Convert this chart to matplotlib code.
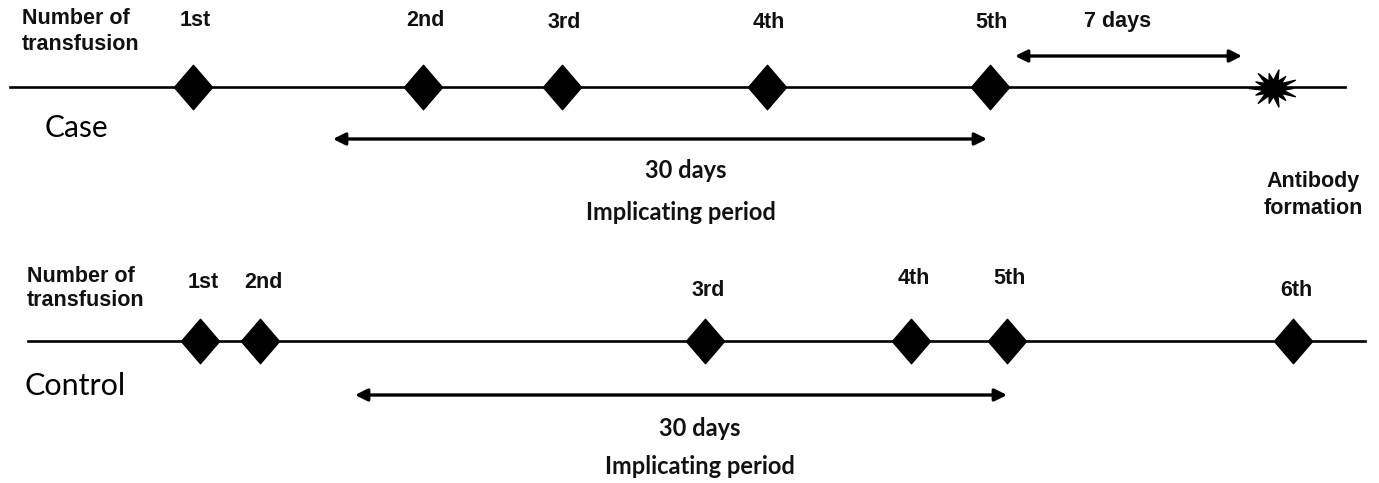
import matplotlib.pyplot as plt
import numpy as np
from matplotlib.path import Path

# timeline positions (in figure pixel units along the time axis)
case_pos = [193, 423, 562, 767, 990]
case_labels = ['1st', '2nd', '3rd', '4th', '5th']
case_label_y = [20, 20, 23, 22, 22]
antibody_pos = 1273

control_pos = [200, 260, 705, 911, 1007, 1293]
control_labels = ['1st', '2nd', '3rd', '4th', '5th', '6th']
control_label_y = [283, 283, 290, 278, 279, 291]

case_period = [333, 987]
case_seven = [1015, 1242]
control_period = [355, 1007]

fig = plt.figure(figsize=(13.79, 4.83), dpi=100)
ax = fig.add_axes([0, 0, 1, 1])
ax.set_xlim(0, 1379)
ax.set_ylim(483, 0)
ax.axis('off')

# diamond marker, a bit taller than wide
diamond = Path([(0, 1), (0.86, 0), (0, -1), (-0.86, 0), (0, 1)],
               [Path.MOVETO, Path.LINETO, Path.LINETO, Path.LINETO, Path.CLOSEPOLY])

# spiky burst for the antibody formation
n = 14
ang = np.linspace(0, 2 * np.pi, 2 * n, endpoint=False)
rad = np.where(np.arange(2 * n) % 2 == 0, 1.0, 0.42)
rad[::4] = 0.8
pts = np.column_stack([rad * np.cos(ang), 0.78 * rad * np.sin(ang)])
pts = np.vstack([pts, pts[:1]])
burst = Path(pts, [Path.MOVETO] + [Path.LINETO] * (len(pts) - 2) + [Path.CLOSEPOLY])

lab = dict(family='Liberation Sans', fontweight='bold', fontsize=15.5, color='#111111')
cal = dict(family='Lato', fontweight='bold', fontsize=17, color='#111111')
arrow = dict(arrowstyle='<|-|>', color='black', lw=2.4, mutation_scale=18,
             shrinkA=0, shrinkB=0)

# ---- Case ----
y_case = 87
ax.plot([10, 1345], [y_case, y_case], color='black', lw=1.9, zorder=1)
ax.plot(case_pos, [y_case] * len(case_pos), ls='none', marker=diamond,
        markersize=32, color='black', zorder=3)
ax.plot([antibody_pos], [y_case + 1], ls='none', marker=burst, markersize=35,
        color='black', zorder=3)
for x, t, yy in zip(case_pos, case_labels, case_label_y):
    ax.text(x + 2, yy, t, ha='center', va='center', **lab)
ax.text(22, 18, 'Number of', ha='left', va='center', **lab)
ax.text(22, 45, 'transfusion', ha='left', va='center', **lab)
ax.text(45, 128, 'Case', ha='left', va='center', family='Lato', fontsize=21.5)

ax.annotate('', xy=(case_seven[0], 56), xytext=(case_seven[1], 56), arrowprops=arrow)
ax.text(1118, 22, '7 days', ha='center', va='center', **lab)

ax.annotate('', xy=(case_period[0], 139), xytext=(case_period[1], 139), arrowprops=arrow)
ax.text(686, 170, '30 days', ha='center', va='center', **cal)
ax.text(681, 213, 'Implicating period', ha='center', va='center', **cal)
ax.text(1313, 181, 'Antibody', ha='center', va='center', **lab)
ax.text(1313, 208, 'formation', ha='center', va='center', **lab)

# ---- Control ----
y_ctrl = 341
ax.plot([28, 1365], [y_ctrl, y_ctrl], color='black', lw=1.9, zorder=1)
ax.plot(control_pos, [y_ctrl] * len(control_pos), ls='none', marker=diamond,
        markersize=32, color='black', zorder=3)
for x, t, yy in zip(control_pos, control_labels, control_label_y):
    ax.text(x + 3, yy, t, ha='center', va='center', **lab)
ax.text(27, 277, 'Number of', ha='left', va='center', **lab)
ax.text(27, 301, 'transfusion', ha='left', va='center', **lab)
ax.text(25, 386, 'Control', ha='left', va='center', family='Lato', fontsize=22)

ax.annotate('', xy=(control_period[0], 395), xytext=(control_period[1], 395), arrowprops=arrow)
ax.text(700, 428, '30 days', ha='center', va='center', **cal)
ax.text(700, 467, 'Implicating period', ha='center', va='center', **cal)

plt.savefig('out.png', dpi=100)
